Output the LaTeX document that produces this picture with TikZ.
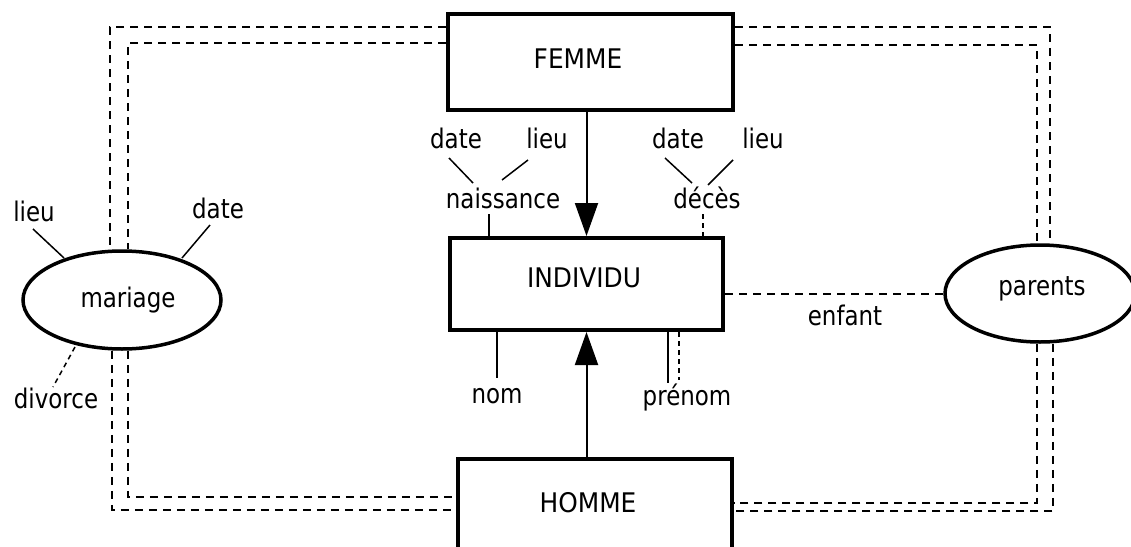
\documentclass[tikz,border=0pt]{standalone}
\usepackage{fontspec}
\setmainfont{DejaVu Sans}
\newfontfamily\labfont[FakeStretch=0.85]{DejaVu Sans}
\newfontfamily\capsfont[FakeStretch=0.92]{DejaVu Sans}
\usetikzlibrary{arrows.meta,shapes.geometric}
\begin{document}
\begin{tikzpicture}[x=1pt,y=-1pt,
  entity/.style={draw,line width=4pt,inner sep=0pt},
  rel/.style={ellipse,draw,line width=3.5pt,inner sep=0pt},
  lab/.style={anchor=base,inner sep=0pt,font=\labfont\fontsize{27}{27}\selectfont},
  caps/.style={anchor=base,inner sep=0pt,font=\capsfont\fontsize{27}{27}\selectfont},
  dsh/.style={line width=2pt,dash pattern=on 8pt off 6pt},
  attr/.style={line width=1.5pt},
  attrd/.style={line width=1.5pt,dash pattern=on 5pt off 4pt},
  isa/.style={line width=2pt,-{Triangle[width=23pt,length=33pt]}}]
\clip (0,0) rectangle (1131,546);
\fill[white] (0,0) rectangle (1131,546);

% entities
\node[entity,minimum width=285pt,minimum height=96pt] (FEMME) at (590.5,62) {};
\node[caps] (tFEMME) at (578,68) {FEMME};
\node[entity,minimum width=273pt,minimum height=92pt] (INDIVIDU) at (586.5,284) {};
\node[caps] (tINDIVIDU) at (584,287) {INDIVIDU};
\node[entity,minimum width=274pt,minimum height=90pt] (HOMME) at (595,504) {};
\node[caps] (tHOMME) at (588,512) {HOMME};

% relationships
\node[rel,minimum width=198pt,minimum height=98pt] (mariage) at (122,300) {};
\node[lab] (tmariage) at (128,307) {mariage};
\node[rel,minimum width=190pt,minimum height=97pt] (parents) at (1040,293.5) {};
\node[lab] (tparents) at (1042,295) {parents};

% isa arrows
\draw[isa] (FEMME.south -| INDIVIDU.north) -- (INDIVIDU.north);
\draw[isa] (HOMME.north -| INDIVIDU.south) -- (INDIVIDU.south);

% double dashed links
\coordinate (LTo) at (110,27);
\coordinate (LTi) at (128,43);
\coordinate (RTo) at (1050,27);
\coordinate (RTi) at (1037,45);
\coordinate (LBo) at (112,510);
\coordinate (LBi) at (128,497);
\coordinate (RBo) at (1053,511);
\coordinate (RBi) at (1037,503);
\draw[dsh] (FEMME.west |- LTo) -- (LTo) -- (LTo |- mariage.north);
\draw[dsh] (FEMME.west |- LTi) -- (LTi) -- (LTi |- mariage.north);
\draw[dsh] (FEMME.east |- RTo) -- (RTo) -- (RTo |- parents.north);
\draw[dsh] (FEMME.east |- RTi) -- (RTi) -- (RTi |- parents.north);
\draw[dsh] (LBo |- mariage.south) -- (LBo) -- (LBo -| HOMME.west);
\draw[dsh] (LBi |- mariage.south) -- (LBi) -- (LBi -| HOMME.west);
\draw[dsh] (RBo |- parents.south) -- (RBo) -- (RBo -| HOMME.east);
\draw[dsh] (RBi |- parents.south) -- (RBi) -- (RBi -| HOMME.east);

% enfant
\draw[dsh] (INDIVIDU.east |- parents.west) -- (parents.west);
\node[lab] (tenfant) at (845,325) {enfant};

% attributes of INDIVIDU
\node[lab] (naissance) at (503,208) {naissance};
\node[lab] (dateN) at (456,148) {date};
\node[lab] (lieuN) at (547,148) {lieu};
\node[lab] (deces) at (707,208) {décès};
\node[lab] (dateD) at (678,148) {date};
\node[lab] (lieuD) at (763,148) {lieu};
\node[lab] (nom) at (497,403) {nom};
\node[lab] (prenom) at (687,405) {prénom};

\coordinate (nA) at (489,214);
\draw[line width=2pt] (nA) -- (nA |- INDIVIDU.north);
\coordinate (dA) at (703,214);
\draw[line width=2pt,dash pattern=on 5pt off 4pt] (dA) -- (dA |- INDIVIDU.north);
\coordinate (nomA) at (497,378);
\draw[line width=2pt] (nomA |- INDIVIDU.south) -- (nomA);
\coordinate (prA) at (668,383);
\draw[line width=2pt] (prA |- INDIVIDU.south) -- (prA);
\coordinate (prB) at (679,380);
\draw[line width=2pt,dash pattern=on 5pt off 4pt] (prB |- INDIVIDU.south) -- (prB);

\coordinate (a1) at (449,158); \coordinate (a2) at (473,183);
\draw[attr] (a1) -- (a2);
\coordinate (b1) at (528,160); \coordinate (b2) at (502,180);
\draw[attr] (b1) -- (b2);
\coordinate (c1) at (665,158); \coordinate (c2) at (692,183);
\draw[attr] (c1) -- (c2);
\coordinate (e1) at (733,160); \coordinate (e2) at (708,185);
\draw[attr] (e1) -- (e2);

% attributes of mariage
\node[lab] (lieuM) at (34,221) {lieu};
\node[lab] (dateM) at (218,218) {date};
\node[lab] (divorce) at (56,408) {divorce};
\coordinate (f1) at (33,229); \coordinate (f2) at (64,258);
\draw[attr] (f1) -- (f2);
\coordinate (g1) at (210,225); \coordinate (g2) at (182,258);
\draw[attr] (g1) -- (g2);
\coordinate (h1) at (75,347); \coordinate (h2) at (53,387);
\draw[attrd] (h1) -- (h2);
\end{tikzpicture}
\end{document}
